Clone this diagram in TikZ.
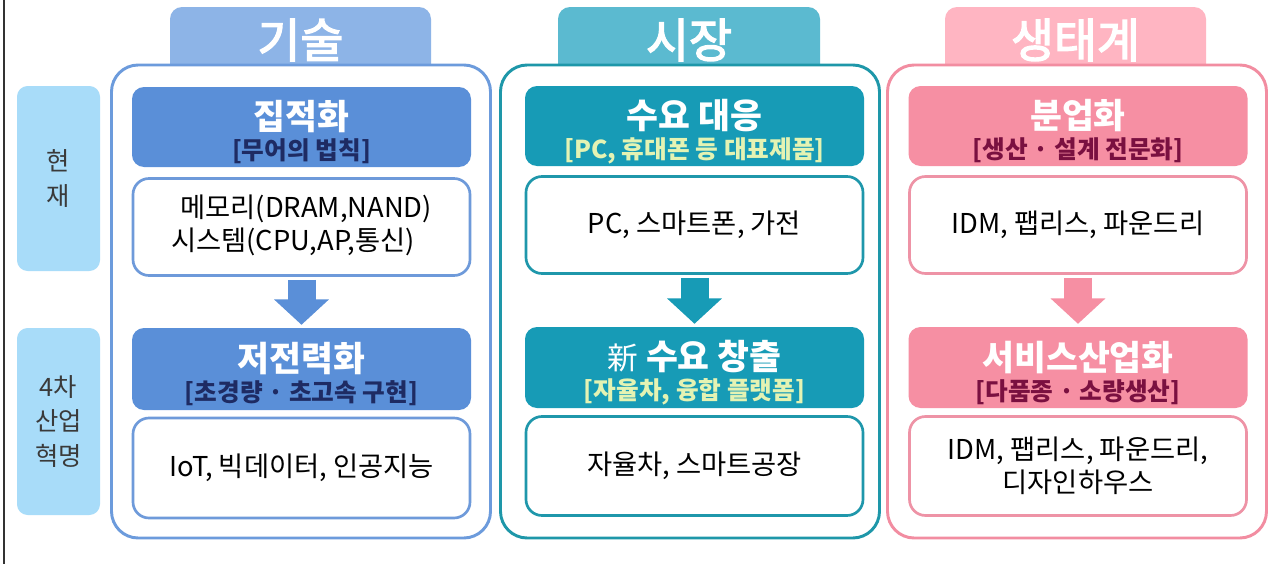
\documentclass[tikz,border=0pt]{standalone}
\usepackage{fontspec}
\setmainfont{Noto Sans CJK KR}
\newfontfamily\hdfont{Noto Sans CJK KR}[FakeBold=3]
\usetikzlibrary{arrows.meta}
\definecolor{techHead}{HTML}{8DB4E7}
\definecolor{techFrame}{HTML}{6C9BDC}
\definecolor{techTitle}{HTML}{5A8FD8}
\definecolor{techSub}{HTML}{1E2B63}
\definecolor{techCnt}{HTML}{6E9ADA}
\definecolor{mktHead}{HTML}{5BBAD0}
\definecolor{mktFrame}{HTML}{1E97A9}
\definecolor{mktTitle}{HTML}{179BB6}
\definecolor{mktSub}{HTML}{E4F3B3}
\definecolor{mktCnt}{HTML}{1F97AB}
\definecolor{ecoHead}{HTML}{FFB5C2}
\definecolor{ecoFrame}{HTML}{F28DA1}
\definecolor{ecoTitle}{HTML}{F68FA3}
\definecolor{ecoSub}{HTML}{7A1040}
\definecolor{ecoCnt}{HTML}{EE93A6}
\definecolor{labBlue}{HTML}{A8DCF9}
\definecolor{labText}{HTML}{3A3A3A}
\definecolor{edgeLine}{HTML}{333333}
\tikzset{
  lab/.style={fill=labBlue, rounded corners=8pt, minimum width=83*.75pt, text=labText,
    font=\fontsize{19}{26}\selectfont, align=center, inner sep=0},
  frm/.style={draw=#1, fill=white, line width=2.2pt, rounded corners=20pt,
    minimum width=379*.75pt, minimum height=473*.75pt, inner sep=0},
  ttl/.style={fill=#1, rounded corners=9pt, minimum width=339*.75pt, inner sep=0},
  ttltxt/.style={align=center, inner sep=0, text=white,
    font=\bfseries\fontsize{18.5}{24}\selectfont},
  cnt/.style={draw=#1, fill=white, line width=2pt, rounded corners=12pt,
    minimum width=337*.75pt, align=center, inner sep=0, text=black,
    font=\fontsize{20.5}{25}\selectfont},
  blk/.style={draw=#1, line width=21pt, -{Triangle[width=40pt,length=19pt]},
    shorten <=2.2pt, shorten >=2.2pt},
  hd/.style={text=white, font=\hdfont\fontsize{35}{38}\selectfont, inner sep=0}
}
\newcommand{\bigt}[1]{{\fontsize{26}{26}\selectfont #1}\\[-1.5pt]}
\begin{document}
\begin{tikzpicture}[x=0.75pt, y=-0.75pt]
\useasboundingbox[fill=white] (0,0) rectangle (1279,564);
\draw[edgeLine, line width=1.5pt] (3.5,0) -- (3.5,564);

% left labels
\node[lab, minimum height=185*.75pt] (now) at (58.5,178.5) {현\\재};
\node[lab, minimum height=187*.75pt] (fut) at (58.5,421.5) {4차\\산업\\혁명};

% ===== 기술 =====
\fill[techHead, rounded corners=9pt] (170,7) rectangle (431,90);
\node[frm=techFrame] (tf) at (301,301.5) {};
\node[hd] (th) at (300.5,40) {기술};
\node[ttl=techTitle, minimum height=80*.75pt] (tt1) at (301.5,127) {};
\node[ttltxt] (tt1t) at ([yshift=-4pt]tt1.center)
  {\bigt{집적화}\textcolor{techSub}{[무어의 법칙]}};
\node[cnt=techCnt, minimum height=97*.75pt] (tc1) at (301.5,227)
  {\begin{tabular}{@{}l@{}}\hspace*{7pt}메모리(DRAM,NAND)\\시스템(CPU,AP,통신)\end{tabular}};
\node[ttl=techTitle, minimum height=82*.75pt] (tt2) at (301.5,369) {};
\node[ttltxt] (tt2t) at ([yshift=-4pt]tt2.center)
  {\bigt{저전력화}\textcolor{techSub}{[초경량 · 초고속 구현]}};
\node[cnt=techCnt, minimum height=100*.75pt] (tc2) at (301.5,468)
  {IoT, 빅데이터, 인공지능};
\draw[blk=techTitle] (tc1.south) -- (tt2.north);

% ===== 시장 =====
\fill[mktHead, rounded corners=9pt] (558,7) rectangle (820,90);
\node[frm=mktFrame] (mf) at (690,301.5) {};
\node[hd] (mh) at (689,40) {시장};
\node[ttl=mktTitle, minimum height=80*.75pt] (mt1) at (694.5,126) {};
\node[ttltxt] (mt1t) at ([yshift=-4pt]mt1.center)
  {\bigt{수요 대응}\textcolor{mktSub}{[PC, 휴대폰 등 대표제품]}};
\node[cnt=mktCnt, minimum height=97*.75pt] (mc1) at (694.5,225)
  {PC, 스마트폰, 가전};
\node[ttl=mktTitle, minimum height=81*.75pt] (mt2) at (694.5,367.5) {};
\node[ttltxt] (mt2t) at ([yshift=-4pt]mt2.center)
  {\bigt{{\mdseries\fontsize{23}{26}\selectfont 新} 수요 창출}\textcolor{mktSub}{[자율차, 융합 플랫폼]}};
\node[cnt=mktCnt, minimum height=99*.75pt] (mc2) at (694.5,466)
  {자율차, 스마트공장};
\draw[blk=mktTitle] (mc1.south) -- (mt2.north);

% ===== 생태계 =====
\fill[ecoHead, rounded corners=9pt] (945,7) rectangle (1206,90);
\node[frm=ecoFrame] (ef) at (1077,301.5) {};
\node[hd] (eh) at (1075.5,40) {생태계};
\node[ttl=ecoTitle, minimum height=80*.75pt] (et1) at (1078,126) {};
\node[ttltxt] (et1t) at ([yshift=-4pt]et1.center)
  {\bigt{분업화}\textcolor{ecoSub}{[생산 · 설계 전문화]}};
\node[cnt=ecoCnt, minimum height=97*.75pt] (ec1) at (1078,225)
  {IDM, 팹리스, 파운드리};
\node[ttl=ecoTitle, minimum height=81*.75pt] (et2) at (1078,367.5) {};
\node[ttltxt] (et2t) at ([yshift=-4pt]et2.center)
  {\bigt{서비스산업화}\textcolor{ecoSub}{[다품종 · 소량생산]}};
\node[cnt=ecoCnt, minimum height=99*.75pt] (ec2) at (1078,466)
  {IDM, 팹리스, 파운드리,\\디자인하우스};
\draw[blk=ecoTitle] (ec1.south) -- (et2.north);
\end{tikzpicture}
\end{document}
